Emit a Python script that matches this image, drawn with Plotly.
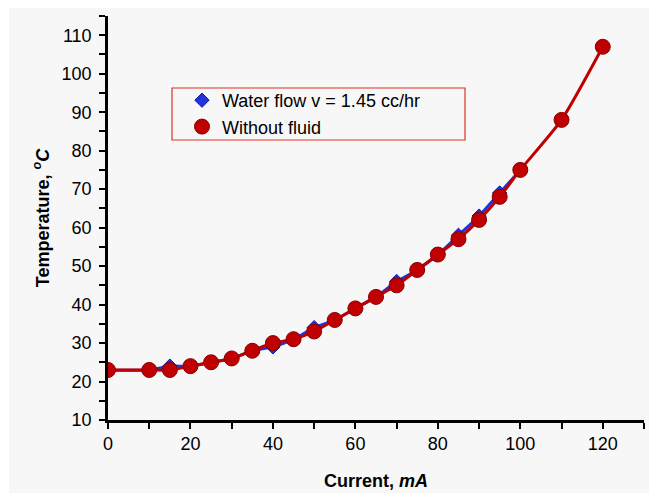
import plotly.graph_objects as go

# Data
current_water = [0, 10, 15, 20, 25, 30, 35, 40, 45, 50, 55, 60, 65, 70, 75, 80, 85, 90, 95, 100]
temp_water = [23, 23, 24, 24, 25, 26, 28, 29, 31, 34, 36, 39, 42, 46, 49, 53, 58, 63, 69, 75]

current_dry = [0, 10, 15, 20, 25, 30, 35, 40, 45, 50, 55, 60, 65, 70, 75, 80, 85, 90, 95, 100, 110, 120]
temp_dry = [23, 23, 23, 24, 25, 26, 28, 30, 31, 33, 36, 39, 42, 45, 49, 53, 57, 62, 68, 75, 88, 107]

name_water = "Water flow v = 1.45 cc/hr"
name_dry = "Without fluid"

x_ticks = [0, 20, 40, 60, 80, 100, 120]
y_ticks = [10, 20, 30, 40, 50, 60, 70, 80, 90, 100, 110]

BLUE = "#2233dd"
BLUE_EDGE = "#0a1a9a"
RED = "#c00000"
RED_EDGE = "#8a0000"

fig = go.Figure()

fig.add_trace(go.Scatter(
    x=current_water, y=temp_water, mode="lines+markers", name=name_water,
    line=dict(color=BLUE, width=3, shape="spline", smoothing=0.6),
    marker=dict(symbol="diamond", size=11, color=BLUE, line=dict(color=BLUE_EDGE, width=1)),
    showlegend=False,
))
fig.add_trace(go.Scatter(
    x=current_dry, y=temp_dry, mode="lines+markers", name=name_dry,
    line=dict(color=RED, width=3, shape="spline", smoothing=0.6),
    marker=dict(symbol="circle", size=15, color=RED, line=dict(color=RED_EDGE, width=1)),
    showlegend=False,
))

# marker-only legend entries
fig.add_trace(go.Scatter(
    x=[None], y=[None], mode="markers", name=name_water,
    marker=dict(symbol="diamond", size=11, color=BLUE, line=dict(color=BLUE_EDGE, width=1)),
))
fig.add_trace(go.Scatter(
    x=[None], y=[None], mode="markers", name=name_dry,
    marker=dict(symbol="circle", size=15, color=RED, line=dict(color=RED_EDGE, width=1)),
))

# page has an 8px body margin; compensate so the plot lands where the reference has it
OFF = 8
W, H = 657, 497
# plot area in screen pixels: x 108..644, y 16..420
PL, PR, PT, PB = 108, 644, 16, 420
L = PL - OFF
T = PT - OFF
R = W - (PR - OFF)
B = H - (PB - OFF)
pw, ph = PR - PL, PB - PT

def px_x(p):
    return (p - PL) / pw

def px_y(p):
    return (PB - p) / ph

fig.update_layout(
    width=W, height=H,
    margin=dict(l=L, r=R, t=T, b=B, pad=0),
    paper_bgcolor="white",
    plot_bgcolor="#f7f7f7",
    font=dict(family="Liberation Sans, Arial, sans-serif", color="black", size=18),
    showlegend=True,
    legend=dict(
        x=px_x(182), y=px_y(82), xanchor="left", yanchor="top",
        bgcolor="rgba(0,0,0,0)", borderwidth=0,
        font=dict(size=18), itemwidth=30, tracegroupgap=2,
    ),
    shapes=[
        dict(type="rect", xref="paper", yref="paper", layer="below",
             x0=px_x(9), x1=px_x(649), y0=px_y(493), y1=px_y(5),
             fillcolor="#f7f7f7", line=dict(width=0)),
        dict(type="rect", xref="paper", yref="paper",
             x0=px_x(172), x1=px_x(465), y0=px_y(140), y1=px_y(88),
             fillcolor="rgba(0,0,0,0)", line=dict(color="#dd3322", width=1.2)),
    ],
    xaxis=dict(
        range=[0, 130], tickvals=x_ticks, ticks="outside", ticklen=6, tickwidth=2,
        tickcolor="black", showline=True, linecolor="black", linewidth=2.5,
        showgrid=False, zeroline=False, automargin=False,
        minor=dict(dtick=10, tick0=0, ticks="outside", ticklen=6, tickwidth=2, tickcolor="black", showgrid=False),
        title=dict(text="<b>Current, <i>mA</i></b>", font=dict(size=18), standoff=22),
    ),
    yaxis=dict(
        range=[10, 115], tickvals=y_ticks, ticks="outside", ticklen=6, tickwidth=2,
        tickcolor="black", showline=True, linecolor="black", linewidth=2.5,
        showgrid=False, zeroline=False, ticklabelstandoff=4, automargin=False,
        minor=dict(dtick=5, tick0=10, ticks="outside", ticklen=6, tickwidth=2, tickcolor="black", showgrid=False),
        title=dict(text="<b>Temperature, <i><sup>o</sup>C</i></b>", font=dict(size=18), standoff=8),
    ),
)

fig.write_html("out.html")
